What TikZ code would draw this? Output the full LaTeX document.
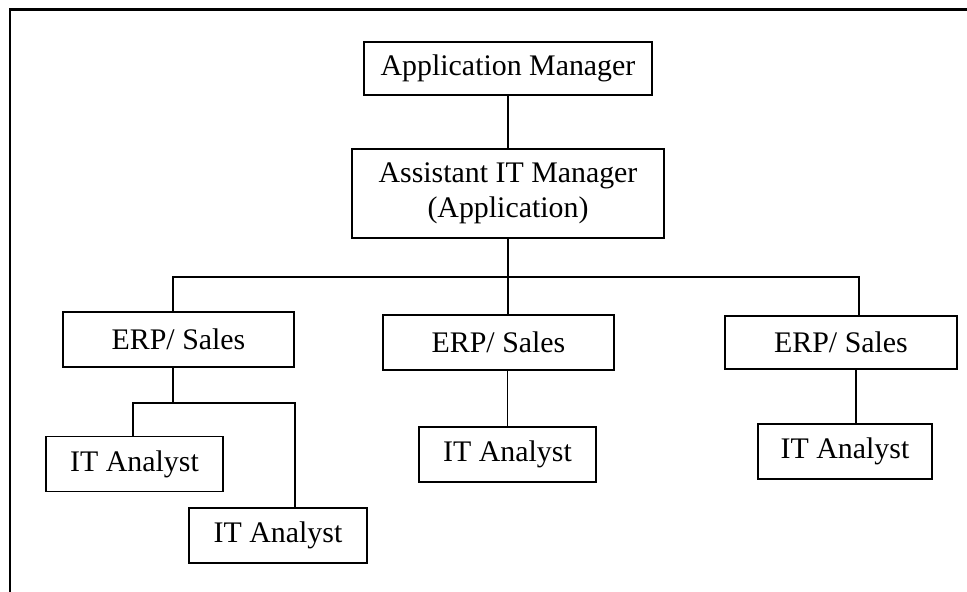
\documentclass[tikz,border=0pt]{standalone}
\usepackage{fontspec}
\setmainfont{Liberation Serif}

\tikzset{
  role/.style={draw, line width=1.1pt, inner sep=0pt, align=center,
               font=\fontsize{17}{20}\selectfont},
  link/.style={line width=1.1pt}
}

\begin{document}
\begin{tikzpicture}
\useasboundingbox (0,0) rectangle (19.34,-11.84);
% page frame (cut at right and bottom)
\draw[line width=1.4pt] (0.2,-11.84) -- (0.2,-0.19) -- (19.34,-0.19);

% managers
\node[role, minimum width=5.76cm, minimum height=1.06cm] (am) at (10.16,-1.37) {Application Manager};
\node[role, minimum width=6.24cm, minimum height=1.78cm] (aim) at (10.16,-3.87) {Assistant IT Manager\\(Application)};

% ERP/ Sales boxes
\foreach \n/\x/\y/\h in {erp1/3.57/-6.79/1.10, erp2/9.97/-6.85/1.10, erp3/16.82/-6.85/1.06} {
    \node[role, minimum width=4.63cm, minimum height=\h cm] (\n) at (\x,\y) {ERP/ Sales};
}

% IT Analyst boxes
\foreach \n/\x/\y/\w in {ita1/2.69/-9.28/3.54, ita2/5.56/-10.71/3.56, ita3/10.15/-9.09/3.54, ita4/16.90/-9.03/3.48} {
    \node[role, minimum width=\w cm, minimum height=1.10cm] (\n) at (\x,\y) {IT Analyst};
}

% bus lines
\coordinate (busL) at (3.46,-5.54);
\coordinate (busR) at (17.18,-5.54);
\coordinate (subL) at (2.66,-8.06);
\coordinate (subR) at (5.90,-8.06);
\coordinate (drop3) at (17.12,-7.34);

% connectors
\draw[link] (am.south) -- (aim.north);
\draw[link] (aim.south) -- (aim.south |- busL) -- (erp2.north -| aim.south);
\draw[link] (erp1.north -| busL) |- (busR) -- (erp3.north -| busR);
\draw[link] (erp1.south -| busL) -- (busL |- subL);
\draw[link] (ita1.north -| subL) |- (subR) -- (ita2.north -| subR);
\draw[link] (erp2.south -| ita3.north) -- (ita3.north);
\draw[link] (erp3.south -| drop3) -- (ita4.north -| drop3);

\end{tikzpicture}
\end{document}
